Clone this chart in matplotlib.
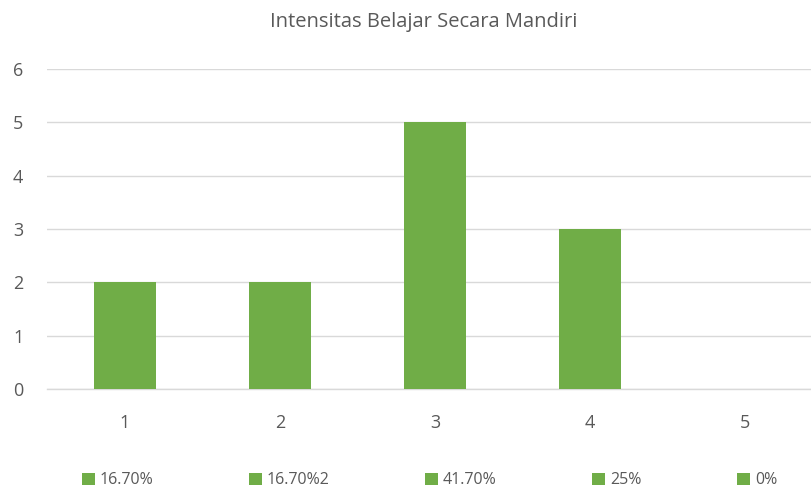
import numpy as np
import matplotlib
matplotlib.use("Agg")
import matplotlib.pyplot as plt
from matplotlib.patches import Patch

categories = ["1", "2", "3", "4", "5"]
values = [2, 2, 5, 3, 0]
series_labels = ["16.70%", "16.70%2", "41.70%", "25%", "0%"]

GREEN = "#70AD47"
TEXT = "#595959"
GRID = "#D9D9D9"

plt.rcParams.update({
    "font.family": ["Open Sans", "DejaVu Sans"],
    "font.size": 12,
})

fig = plt.figure(figsize=(8.12, 4.91), dpi=100)
ax = fig.add_axes([47 / 812, 1 - 389 / 491, 1 - 47 / 812, (389 - 69) / 491])

x = np.arange(1, len(categories) + 1)
for xi, v, lbl in zip(x, values, series_labels):
    ax.bar(xi, v, width=0.4, color=GREEN, label=lbl, zorder=3)

ax.set_xlim(0.497, 5.432)
ax.set_ylim(0, 6)
ax.set_yticks(range(0, 7))
ax.set_xticks(x)
ax.set_xticklabels(categories)
ax.grid(axis="y", color=GRID, lw=1, zorder=0)
ax.axhline(0, color=GRID, lw=1, zorder=1, clip_on=False)
for s in ax.spines.values():
    s.set_visible(False)
ax.tick_params(axis="both", length=0, colors=TEXT, labelsize=13)
ax.tick_params(axis="y", pad=17)
ax.tick_params(axis="x", pad=18)

fig.text(424 / 812, 1 - 22 / 491, "Intensitas Belajar Secara Mandiri",
         ha="center", va="center", fontsize=14.5, color=TEXT)

handles = [Patch(facecolor=GREEN, label=l) for l in series_labels]
ax.legend(handles=handles, loc="center", bbox_to_anchor=(0.5, -0.285),
          ncol=5, frameon=False, fontsize=11.5, labelcolor=TEXT,
          handlelength=0.8, handleheight=0.8, handletextpad=0.3,
          columnspacing=6.0)

fig.savefig("out.png", dpi=100)
